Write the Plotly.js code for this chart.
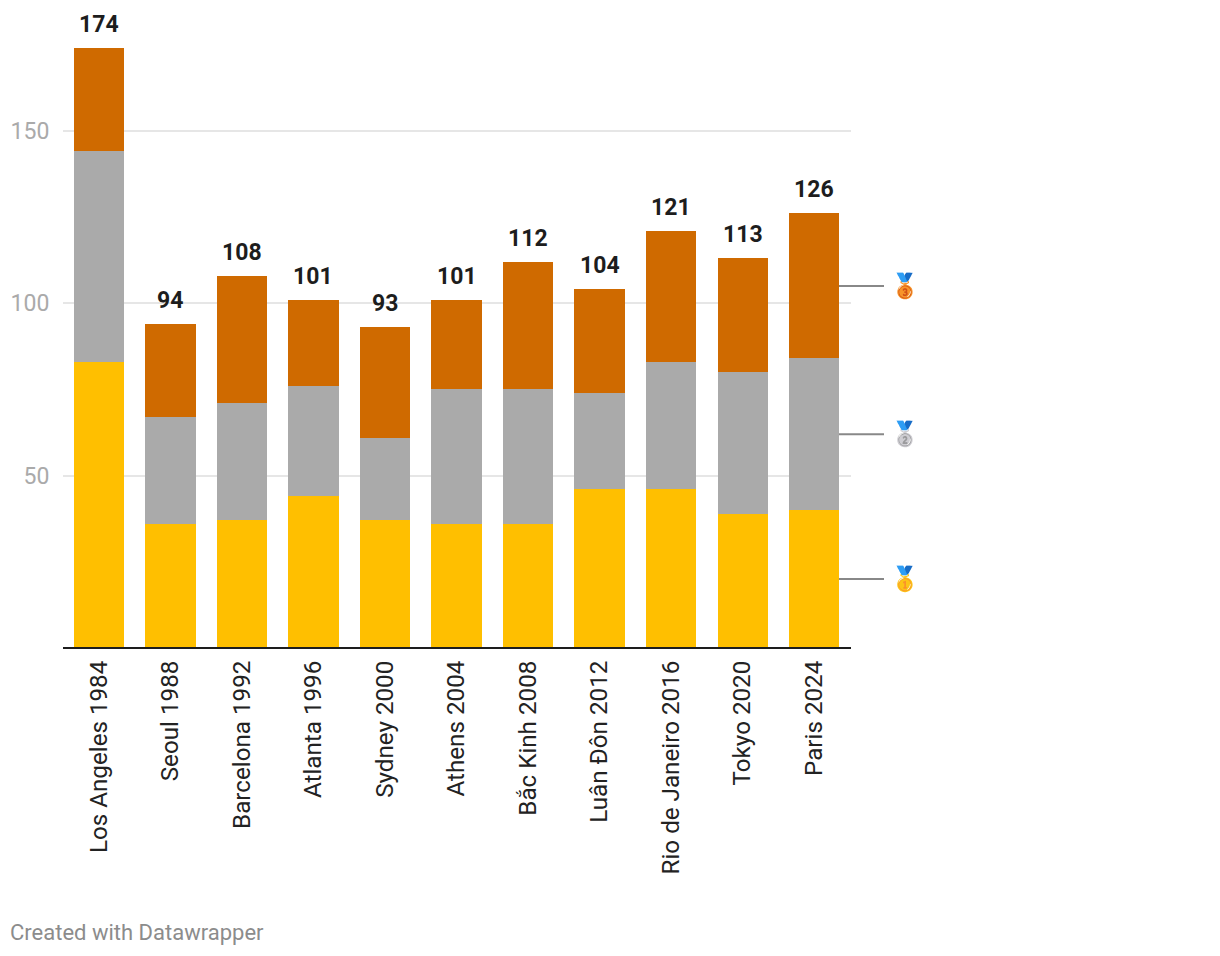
<!DOCTYPE html>
<html>
<head>
<meta charset="utf-8">
<script src="https://cdn.plot.ly/plotly-3.0.1.min.js"></script>
<style>html,body{margin:0;padding:0;background:#fff}</style>
</head>
<body>
<div id="chart" style="width:1220px;height:956px"></div>
<script>
const categories = ["Los Angeles 1984","Seoul 1988","Barcelona 1992","Atlanta 1996","Sydney 2000","Athens 2004","Bắc Kinh 2008","Luân Đôn 2012","Rio de Janeiro 2016","Tokyo 2020","Paris 2024"];
const gold = [83,36,37,44,37,36,36,46,46,39,40];
const silver = [61,31,34,32,24,39,39,28,37,41,44];
const bronze = [30,27,37,25,32,26,37,30,38,33,42];
const totals = [174,94,108,101,93,101,112,104,121,113,126];
const yTicks = [50,100,150];
const medalLabels = ["🥉","🥈","🥇"];
const medalLevels = [105,62,20];

const font = "Roboto, Arial, sans-serif";
const bar = (name, y, color) => ({type:"bar", name, x:categories, y, width:0.7,
  marker:{color, line:{width:0}}, hoverinfo:"y+name"});

const traces = [
  bar("Gold", gold, "#ffbf00"),
  bar("Silver", silver, "#aaaaaa"),
  bar("Bronze", bronze, "#cf6a00")
];

const px = v => (v-63)/788;
const layout = {
  width:1220, height:956, barmode:"stack", showlegend:false,
  paper_bgcolor:"#fff", plot_bgcolor:"#fff",
  margin:{l:63, r:369, t:0, b:308, pad:0},
  font:{family:font},
  xaxis:{type:"category", categoryorder:"array", categoryarray:categories,
    range:[-0.503,10.517], tickangle:-90, tickfont:{family:font,size:24.2,color:"#222"},
    ticks:"outside", ticklen:2, tickcolor:"rgba(0,0,0,0)", tickwidth:1,
    showline:false, showgrid:false, zeroline:false, automargin:false},
  yaxis:{range:[0,187.9], tickmode:"array", tickvals:yTicks, ticktext:yTicks.map(String),
    tickfont:{family:font,size:23,color:"#aaaaaa"}, ticks:"outside", ticklen:8, tickcolor:"rgba(0,0,0,0)",
    gridcolor:"#e6e6e6", gridwidth:2, zeroline:false, showline:false, automargin:false},
  shapes:[
    {type:"line", xref:"paper", yref:"paper", x0:0, x1:1, y0:0, y1:0, line:{color:"#1d1d1d", width:2}, layer:"above"}
  ].concat(medalLevels.map(v => ({type:"line", xref:"paper", yref:"y", x0:px(839), x1:px(884), y0:v, y1:v,
      line:{color:"#888888", width:2}, layer:"above"}))),
  annotations: medalLabels.map((m,i) => ({xref:"paper", yref:"y", x:px(905), y:medalLevels[i], text:m,
      showarrow:false, xanchor:"center", yanchor:"middle", font:{size:24, family:"'Noto Color Emoji', "+font}}))
   .concat(totals.map((t,i) => ({xref:"x", yref:"y", x:categories[i], y:t, text:String(t), showarrow:false,
      xanchor:"center", yanchor:"bottom", yshift:8, font:{family:font,size:23,color:"#1d1d1d",weight:700}})))
   .concat([{xref:"paper", yref:"paper", x:px(8), y:-284/648, text:"Created with Datawrapper", showarrow:false,
      xanchor:"left", yanchor:"middle", font:{family:font,size:22,color:"#8c8c8c"}}])
};
Plotly.newPlot("chart", traces, layout, {displayModeBar:false, staticPlot:true});
</script>
</body>
</html>
